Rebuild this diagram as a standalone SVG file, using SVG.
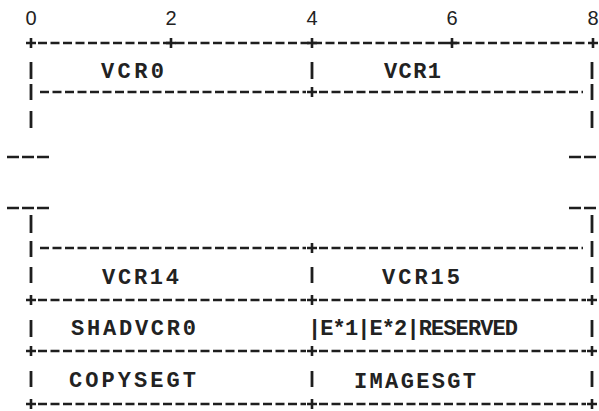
<svg xmlns="http://www.w3.org/2000/svg" xmlns:xlink="http://www.w3.org/1999/xlink" width="599" height="411" viewBox="0 0 599 411">
<style>
.bg{fill:#ffffff}
.dash{stroke:#1e1e1e;stroke-width:2.4;stroke-dasharray:9 3.5;fill:none}
.bar{stroke:#1e1e1e;stroke-width:2.8;fill:none}
.brk{stroke:#1e1e1e;stroke-width:2.4;stroke-dasharray:12 3;fill:none}
.lbl{font-family:"Liberation Mono","DejaVu Sans Mono",monospace;font-size:22px;font-weight:bold;fill:#222222}
.num{font-family:"Liberation Sans","DejaVu Sans",sans-serif;font-size:20px;fill:#222222;text-anchor:middle}
</style>
<defs>
<path id="plus" d="M-5,0 H5 M0,-5 V5" stroke="#1e1e1e" stroke-width="2.6" fill="none"/>
</defs>
<rect class="bg" x="0" y="0" width="599" height="411"/>
<g id="scale">
<text class="num" x="31" y="25">0</text>
<text class="num" x="171" y="25">2</text>
<text class="num" x="312" y="25">4</text>
<text class="num" x="452" y="25">6</text>
<text class="num" x="593" y="25">8</text>
</g>
<g id="connectors">
<path class="dash" d="M38,43 H588"/>
<use xlink:href="#plus" x="31" y="43"/><use xlink:href="#plus" x="171" y="43"/><use xlink:href="#plus" x="312" y="43"/><use xlink:href="#plus" x="452" y="43"/><use xlink:href="#plus" x="593" y="43"/>
<path class="bar" d="M31,62 V79 M312,62 V79 M592,62 V79"/>
<path class="bar" d="M31,84 V100 M592,84 V100"/>
<path class="dash" d="M40,92 H306 M319,92 H583"/>
<use xlink:href="#plus" x="312" y="92"/>
<path class="bar" d="M31,111 V128 M592,111 V128"/>
<path class="brk" d="M7,157 H52 M569,157 H599 M7,208 H52 M569,208 H599"/>
<path class="bar" d="M31,215 V233 M592,215 V233"/>
<path class="bar" d="M31,241 V257 M592,241 V257"/>
<path class="dash" d="M40,248 H306 M319,248 H583"/>
<use xlink:href="#plus" x="312" y="248"/>
<path class="bar" d="M31,267 V283 M312,267 V283 M592,267 V283"/>
<path class="dash" d="M38,300 H306 M319,300 H586"/>
<use xlink:href="#plus" x="31" y="300"/><use xlink:href="#plus" x="312" y="300"/><use xlink:href="#plus" x="592" y="300"/>
<path class="bar" d="M31,320 V337 M592,320 V337"/>
<path class="dash" d="M38,351 H306 M319,351 H586"/>
<use xlink:href="#plus" x="31" y="351"/><use xlink:href="#plus" x="312" y="351"/><use xlink:href="#plus" x="592" y="351"/>
<path class="bar" d="M31,371 V387 M312,371 V387 M592,371 V387"/>
<path class="dash" d="M38,404 H306 M319,404 H586"/>
<use xlink:href="#plus" x="31" y="404"/><use xlink:href="#plus" x="312" y="404"/><use xlink:href="#plus" x="592" y="404"/>
</g>
<g id="vcr0"><text class="lbl" x="101" y="78" textLength="63" lengthAdjust="spacing">VCR0</text></g>
<g id="vcr1"><text class="lbl" x="384" y="78" textLength="57" lengthAdjust="spacing">VCR1</text></g>
<g id="vcr14"><text class="lbl" x="102" y="284" textLength="77" lengthAdjust="spacing">VCR14</text></g>
<g id="vcr15"><text class="lbl" x="382" y="284" textLength="78" lengthAdjust="spacing">VCR15</text></g>
<g id="shadvcr0"><text class="lbl" x="71" y="335" textLength="125" lengthAdjust="spacing">SHADVCR0</text></g>
<g id="flags"><text class="lbl" x="308" y="335" textLength="210" lengthAdjust="spacing">|E*1|E*2|RESERVED</text></g>
<g id="copysegt"><text class="lbl" x="69" y="387" textLength="127" lengthAdjust="spacing">COPYSEGT</text></g>
<g id="imagesgt"><text class="lbl" x="354" y="388" textLength="122" lengthAdjust="spacing">IMAGESGT</text></g>
</svg>
